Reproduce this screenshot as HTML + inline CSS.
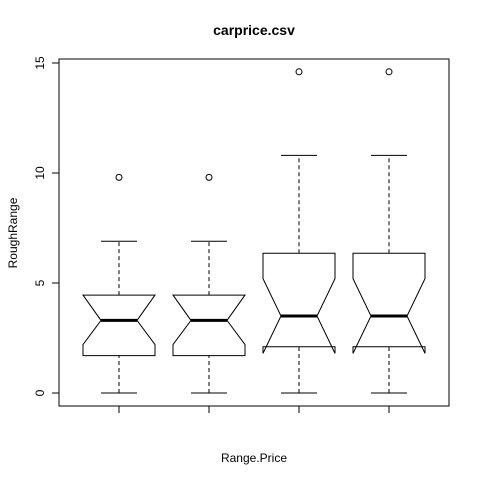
<!DOCTYPE html>
<html><head><meta charset="utf-8"><style>body{margin:0;background:#fff}svg{display:block}text{font-family:"Liberation Sans",sans-serif}</style></head>
<body>
<svg id="c" width="480" height="480" xmlns="http://www.w3.org/2000/svg">
<text x="254" y="35" text-anchor="middle" font-size="14" font-weight="bold">carprice.csv</text>
<text x="254" y="462" text-anchor="middle" font-size="12">Range.Price</text>
<text transform="translate(17,233) rotate(-90)" text-anchor="middle" font-size="12">RoughRange</text>
<rect x="59" y="59" width="390" height="347" fill="none" stroke="#000"/>
<g id="g"></g>
</svg>
<script>
const categories=["1","2","3","4"];
const whiskLo=[0,0,0,0];
const q1=[1.7,1.7,2.1,2.1];
const med=[3.3,3.3,3.5,3.5];
const q3=[4.45,4.45,6.35,6.35];
const whiskHi=[6.9,6.9,10.8,10.8];
const notchLo=[2.2,2.2,1.8,1.8];
const notchHi=[4.45,4.45,5.2,5.2];
const outliers=[[9.8],[9.8],[14.6],[14.6]];
const yTicks=[0,5,10,15];
const ns="http://www.w3.org/2000/svg";
const g=document.getElementById('g');
const y=v=>393-22*v;
const x=i=>119+90*i;
function mk(t,a){const e=document.createElementNS(ns,t);for(const k in a)e.setAttribute(k,a[k]);g.appendChild(e);return e;}
yTicks.forEach(v=>{
 const t=mk('line',{x1:52,x2:59,y1:y(v),y2:y(v),stroke:'#000'});
 
 
 const l=mk('text',{transform:`translate(44,${y(v)}) rotate(-90)`,'text-anchor':'middle','font-size':12});
 l.textContent=v;
 
 
});
categories.forEach((c,i)=>{
 const cx=x(i),L=cx-36,R=cx+36,iL=cx-18,iR=cx+18;
 const t=mk('line',{x1:cx,x2:cx,y1:406,y2:413,stroke:'#000'});
 
 
 const w1=mk('line',{x1:cx,x2:cx,y1:y(whiskLo[i]),y2:y(q1[i]),stroke:'#000','stroke-dasharray':'4,3'});
 
 
 const w2=mk('line',{x1:cx,x2:cx,y1:y(q3[i]),y2:y(whiskHi[i]),stroke:'#000','stroke-dasharray':'4,3'});
 
 
 const c1=mk('line',{x1:iL,x2:iR,y1:y(whiskLo[i]),y2:y(whiskLo[i]),stroke:'#000'});
 
 
 const c2=mk('line',{x1:iL,x2:iR,y1:y(whiskHi[i]),y2:y(whiskHi[i]),stroke:'#000'});
 
 
 const pts=[[L,y(q1[i])],[L,y(notchLo[i])],[iL,y(med[i])],[L,y(notchHi[i])],[L,y(q3[i])],[R,y(q3[i])],[R,y(notchHi[i])],[iR,y(med[i])],[R,y(notchLo[i])],[R,y(q1[i])]];
 const b=mk('polygon',{points:pts.map(p=>p.join(',')).join(' '),fill:'#fff',stroke:'#000'});
 
 
 const m=mk('line',{x1:iL,x2:iR,y1:y(med[i]),y2:y(med[i]),stroke:'#000','stroke-width':3});
 
 
 outliers[i].forEach(v=>{
  const o=mk('circle',{cx:cx,cy:y(v),r:3,fill:'none',stroke:'#000'});
  
  
 });
});
</script>
</body></html>
